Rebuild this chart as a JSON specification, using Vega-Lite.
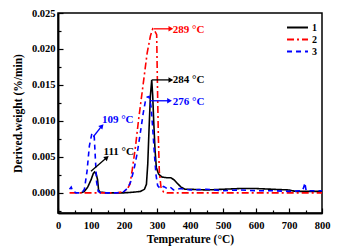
{
  "$schema": "https://vega.github.io/schema/vega-lite/v6.json",
  "width": 264,
  "height": 200,
  "autosize": {"type": "none"},
  "padding": {"left": 58, "top": 13, "right": 24, "bottom": 39},
  "background": "white",
  "config": {
    "view": {"stroke": "black", "strokeWidth": 1.5},
    "font": "Liberation Serif",
    "axis": {
      "domainColor": "black", "domainWidth": 1.5, "tickColor": "black", "tickWidth": 1.2,
      "grid": false, "labelFont": "Liberation Serif", "labelFontWeight": "bold", "labelFontSize": 10.5,
      "labelColor": "black", "titleFont": "Liberation Serif", "titleFontWeight": "bold", "titleFontSize": 11.5,
      "titleColor": "black", "labelFlush": false
    },
    "axisX": {"tickSize": -5, "labelPadding": 12, "titlePadding": 3},
    "axisY": {"tickSize": -5, "labelPadding": 8, "titlePadding": 8},
    "legend": {"padding": 0, "rowPadding": -2, "labelOffset": 8, "symbolStrokeWidth": 2}
  },
  "resolve": {"axis": {"x": "independent", "y": "independent"}},
  "datasets": {
    "curves": [
      {"T": 70, "v": 0, "s": "1"}, {"T": 80, "v": 0.0002, "s": "1"}, {"T": 90, "v": 0.0008, "s": "1"},
      {"T": 100, "v": 0.0018, "s": "1"}, {"T": 107, "v": 0.0027, "s": "1"}, {"T": 111, "v": 0.0029, "s": "1"},
      {"T": 116, "v": 0.0026, "s": "1"}, {"T": 120, "v": 0.0018, "s": "1"}, {"T": 123, "v": 0.0004, "s": "1"},
      {"T": 127, "v": 0.0001, "s": "1"}, {"T": 150, "v": 0, "s": "1"}, {"T": 200, "v": 0, "s": "1"},
      {"T": 230, "v": 0.0001, "s": "1"}, {"T": 250, "v": 0.0002, "s": "1"}, {"T": 262, "v": 0.0005, "s": "1"},
      {"T": 268, "v": 0.0012, "s": "1"}, {"T": 272, "v": 0.004, "s": "1"}, {"T": 276, "v": 0.009, "s": "1"},
      {"T": 280, "v": 0.0135, "s": "1"}, {"T": 284, "v": 0.0157, "s": "1"}, {"T": 287, "v": 0.0135, "s": "1"},
      {"T": 290, "v": 0.01, "s": "1"}, {"T": 294, "v": 0.006, "s": "1"}, {"T": 298, "v": 0.0035, "s": "1"},
      {"T": 305, "v": 0.0026, "s": "1"}, {"T": 315, "v": 0.0022, "s": "1"}, {"T": 330, "v": 0.0021, "s": "1"},
      {"T": 342, "v": 0.0021, "s": "1"}, {"T": 352, "v": 0.0018, "s": "1"}, {"T": 362, "v": 0.0013, "s": "1"},
      {"T": 373, "v": 0.0008, "s": "1"}, {"T": 385, "v": 0.0005, "s": "1"}, {"T": 400, "v": 0.0005, "s": "1"},
      {"T": 450, "v": 0.0004, "s": "1"}, {"T": 500, "v": 0.0005, "s": "1"}, {"T": 550, "v": 0.0006, "s": "1"},
      {"T": 600, "v": 0.0006, "s": "1"}, {"T": 650, "v": 0.0005, "s": "1"}, {"T": 700, "v": 0.0004, "s": "1"},
      {"T": 720, "v": 0.0002, "s": "1"}, {"T": 760, "v": 0.0002, "s": "1"}, {"T": 800, "v": 0.0002, "s": "1"},

      {"T": 35, "v": 0, "s": "2"}, {"T": 100, "v": 0, "s": "2"}, {"T": 180, "v": 0, "s": "2"},
      {"T": 200, "v": 0.0002, "s": "2"}, {"T": 210, "v": 0.0005, "s": "2"}, {"T": 218, "v": 0.0012, "s": "2"},
      {"T": 225, "v": 0.0032, "s": "2"}, {"T": 235, "v": 0.0065, "s": "2"}, {"T": 244, "v": 0.0101, "s": "2"},
      {"T": 255, "v": 0.014, "s": "2"}, {"T": 262, "v": 0.0165, "s": "2"}, {"T": 270, "v": 0.0194, "s": "2"},
      {"T": 280, "v": 0.0218, "s": "2"}, {"T": 287, "v": 0.0228, "s": "2"}, {"T": 292, "v": 0.0226, "s": "2"},
      {"T": 299, "v": 0.022, "s": "2"}, {"T": 301, "v": 0.016, "s": "2"}, {"T": 304, "v": 0.008, "s": "2"},
      {"T": 307, "v": 0.003, "s": "2"}, {"T": 312, "v": 0.0008, "s": "2"}, {"T": 320, "v": 0.0001, "s": "2"},
      {"T": 330, "v": 0, "s": "2"}, {"T": 400, "v": 0, "s": "2"}, {"T": 500, "v": 0, "s": "2"},
      {"T": 600, "v": 0, "s": "2"}, {"T": 700, "v": 0, "s": "2"}, {"T": 800, "v": 0, "s": "2"},

      {"T": 35, "v": 0.0005, "s": "3"}, {"T": 40, "v": 0.0008, "s": "3"}, {"T": 45, "v": 0.0002, "s": "3"},
      {"T": 55, "v": 0, "s": "3"}, {"T": 72, "v": 0, "s": "3"}, {"T": 80, "v": 0.0005, "s": "3"},
      {"T": 88, "v": 0.003, "s": "3"}, {"T": 95, "v": 0.0065, "s": "3"}, {"T": 102, "v": 0.0081, "s": "3"},
      {"T": 107, "v": 0.0083, "s": "3"}, {"T": 110, "v": 0.0077, "s": "3"}, {"T": 113, "v": 0.005, "s": "3"},
      {"T": 117, "v": 0.0015, "s": "3"}, {"T": 122, "v": 0.0002, "s": "3"}, {"T": 130, "v": 0, "s": "3"},
      {"T": 180, "v": 0, "s": "3"}, {"T": 200, "v": 0.0002, "s": "3"}, {"T": 210, "v": 0.0006, "s": "3"},
      {"T": 220, "v": 0.0015, "s": "3"}, {"T": 230, "v": 0.0032, "s": "3"}, {"T": 240, "v": 0.0055, "s": "3"},
      {"T": 250, "v": 0.0085, "s": "3"}, {"T": 258, "v": 0.011, "s": "3"}, {"T": 265, "v": 0.0128, "s": "3"},
      {"T": 270, "v": 0.0133, "s": "3"}, {"T": 276, "v": 0.0134, "s": "3"}, {"T": 282, "v": 0.012, "s": "3"},
      {"T": 287, "v": 0.009, "s": "3"}, {"T": 292, "v": 0.0055, "s": "3"}, {"T": 297, "v": 0.0025, "s": "3"},
      {"T": 302, "v": 0.001, "s": "3"}, {"T": 310, "v": 0.0006, "s": "3"}, {"T": 320, "v": 0.0009, "s": "3"},
      {"T": 330, "v": 0.0006, "s": "3"}, {"T": 340, "v": 0.0008, "s": "3"}, {"T": 350, "v": 0.0004, "s": "3"},
      {"T": 370, "v": 0.0006, "s": "3"}, {"T": 400, "v": 0.0004, "s": "3"}, {"T": 450, "v": 0.0005, "s": "3"},
      {"T": 500, "v": 0.0003, "s": "3"}, {"T": 550, "v": 0.0004, "s": "3"}, {"T": 600, "v": 0.0003, "s": "3"},
      {"T": 650, "v": 0.0003, "s": "3"}, {"T": 700, "v": 0.0002, "s": "3"}, {"T": 740, "v": 0.0003, "s": "3"},
      {"T": 745, "v": 0.0008, "s": "3"}, {"T": 748, "v": 0.0014, "s": "3"}, {"T": 752, "v": 0.0003, "s": "3"},
      {"T": 770, "v": 0.0003, "s": "3"}, {"T": 800, "v": 0.0003, "s": "3"}
    ],
    "arrows": [
      {"id": "a289", "x": 290, "y": 0.0228, "x2": 342, "y2": 0.0228, "s": "2"},
      {"id": "a284", "x": 285, "y": 0.0157, "x2": 342, "y2": 0.0157, "s": "1"},
      {"id": "a276", "x": 278, "y": 0.0128, "x2": 338, "y2": 0.0128, "s": "3"},
      {"id": "a109", "x": 107, "y": 0.0078, "x2": 133, "y2": 0.0093, "s": "3"},
      {"id": "a111", "x": 100, "y": 0.003, "x2": 148, "y2": 0.0049, "s": "1"}
    ],
    "labels": [
      {"x": 348, "y": 0.0226, "t": "289 °C", "s": "2"},
      {"x": 348, "y": 0.0157, "t": "284 °C", "s": "1"},
      {"x": 348, "y": 0.0126, "t": "276 °C", "s": "3"},
      {"x": 133, "y": 0.0101, "t": "109 °C", "s": "3"},
      {"x": 138, "y": 0.0057, "t": "111 °C", "s": "1"}
    ]
  },
  "layer": [
    {
      "data": {"name": "curves"},
      "mark": {"type": "line", "strokeWidth": 1.6},
      "encoding": {
        "x": {
          "field": "T", "type": "quantitative",
          "scale": {"domain": [0, 800], "nice": false, "zero": false},
          "axis": {"title": "Temperature (°C)", "orient": "bottom", "values": [0, 200, 400, 600, 800]}
        },
        "y": {
          "field": "v", "type": "quantitative",
          "scale": {"domain": [-0.0028, 0.025], "nice": false, "zero": false},
          "axis": {"title": "Derived.weight (%/min)", "orient": "left", "values": [0, 0.01, 0.02], "format": ".3f"}
        },
        "color": {
          "field": "s", "type": "nominal",
          "scale": {"domain": ["1", "2", "3"], "range": ["#000000", "#ff0000", "#0000ff"]},
          "legend": {
            "title": null, "orient": "none", "legendX": 233, "legendY": 8,
            "symbolType": "M-2,0H2", "symbolSize": 110,
            "labelFont": "Liberation Serif", "labelFontWeight": "bold", "labelFontSize": 10,
            "labelColor": "black"
          }
        },
        "strokeDash": {
          "field": "s", "type": "nominal",
          "scale": {"domain": ["1", "2", "3"], "range": [[1, 0], [7, 3, 2, 3], [5, 4]]},
          "legend": {
            "title": null, "orient": "none", "legendX": 233, "legendY": 8,
            "symbolType": "M-2,0H2", "symbolSize": 110,
            "labelFont": "Liberation Serif", "labelFontWeight": "bold", "labelFontSize": 10,
            "labelColor": "black"
          }
        }
      }
    },
    {
      "data": {"name": "arrows"},
      "mark": {"type": "rule", "strokeWidth": 1.3},
      "encoding": {
        "x": {"field": "x", "type": "quantitative", "axis": {"title": null, "orient": "bottom", "values": [100, 300, 500, 700]}},
        "y": {"field": "y", "type": "quantitative", "axis": {"title": null, "orient": "left", "values": [0.005, 0.015, 0.025], "format": ".3f"}},
        "x2": {"field": "x2"},
        "y2": {"field": "y2"},
        "color": {"field": "s", "type": "nominal", "legend": null}
      }
    },
    {
      "data": {"name": "arrows"},
      "transform": [{"filter": "datum.id == 'a289' || datum.id == 'a284' || datum.id == 'a276'"}],
      "mark": {"type": "point", "shape": "triangle-right", "filled": true, "size": 30, "opacity": 1},
      "encoding": {
        "x": {"field": "x2", "type": "quantitative", "axis": {"title": null, "orient": "bottom", "labels": false, "domain": false, "tickSize": -3, "values": [50, 150, 250, 350, 450, 550, 650, 750]}},
        "y": {"field": "y2", "type": "quantitative", "axis": {"title": null, "orient": "left", "labels": false, "domain": false, "tickSize": -3, "values": [-0.0025, 0.0025, 0.0075, 0.0125, 0.0175, 0.0225]}},
        "color": {"field": "s", "type": "nominal", "legend": null}
      }
    },
    {
      "data": {"name": "arrows"},
      "transform": [{"filter": "datum.id == 'a109'"}],
      "mark": {"type": "point", "shape": "triangle-right", "filled": true, "size": 30, "opacity": 1, "angle": 312},
      "encoding": {
        "x": {"field": "x2", "type": "quantitative", "axis": null},
        "y": {"field": "y2", "type": "quantitative", "axis": null},
        "color": {"field": "s", "type": "nominal", "legend": null}
      }
    },
    {
      "data": {"name": "arrows"},
      "transform": [{"filter": "datum.id == 'a111'"}],
      "mark": {"type": "point", "shape": "triangle-right", "filled": true, "size": 30, "opacity": 1, "angle": 320},
      "encoding": {
        "x": {"field": "x2", "type": "quantitative", "axis": null},
        "y": {"field": "y2", "type": "quantitative", "axis": null},
        "color": {"field": "s", "type": "nominal", "legend": null}
      }
    },
    {
      "data": {"name": "labels"},
      "mark": {"type": "text", "align": "left", "baseline": "middle", "font": "Liberation Serif", "fontWeight": "bold", "fontSize": 11},
      "encoding": {
        "x": {"field": "x", "type": "quantitative", "axis": null},
        "y": {"field": "y", "type": "quantitative", "axis": null},
        "text": {"field": "t"},
        "color": {"field": "s", "type": "nominal", "legend": null}
      }
    }
  ]
}
